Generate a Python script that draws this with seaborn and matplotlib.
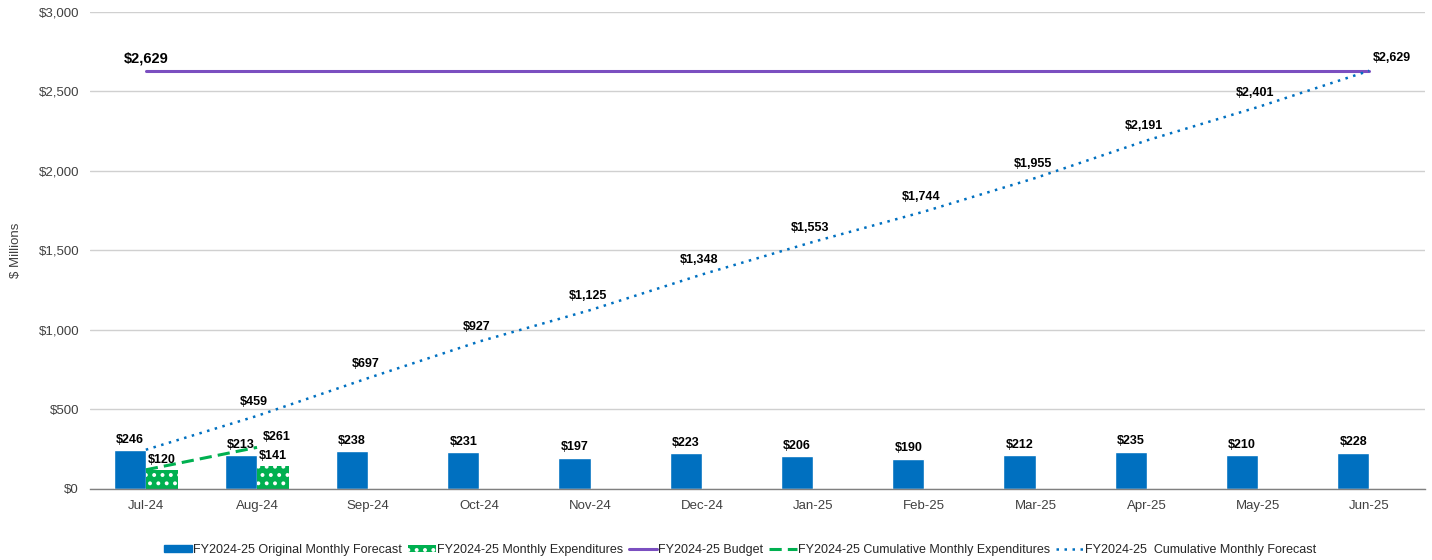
import numpy as np
import pandas as pd
import matplotlib
matplotlib.use("Agg")
import matplotlib.pyplot as plt
from matplotlib.patches import Patch
from matplotlib.lines import Line2D
import seaborn as sns

months = ["Jul-24", "Aug-24", "Sep-24", "Oct-24", "Nov-24", "Dec-24",
          "Jan-25", "Feb-25", "Mar-25", "Apr-25", "May-25", "Jun-25"]
forecast = [246, 213, 238, 231, 197, 223, 206, 190, 212, 235, 210, 228]
expenditures = [120, 141]
budget = 2629
cum_expenditures = [120, 261]
cum_forecast = [246, 459, 697, 927, 1125, 1348, 1553, 1744, 1955, 2191, 2401, 2629]

yticks = [0, 500, 1000, 1500, 2000, 2500, 3000]

names = ["FY2024-25 Original Monthly Forecast",
         "FY2024-25 Monthly Expenditures",
         "FY2024-25 Budget",
         "FY2024-25 Cumulative Monthly Expenditures",
         "FY2024-25  Cumulative Monthly Forecast"]

BLUE = "#0070C0"
GREEN = "#00B050"
PURPLE = "#7B4FC0"

sns.set_theme(style="white")
plt.rcParams["font.family"] = ["Liberation Sans", "DejaVu Sans"]
plt.rcParams["hatch.linewidth"] = 1.6

fig = plt.figure(figsize=(14.32, 5.6), dpi=100)
ax = fig.add_axes([0.063, 0.127, 0.932, 0.852])

bar_df = pd.DataFrame({
    "Month": months + months[:len(expenditures)],
    "Value": forecast + expenditures,
    "Series": [names[0]] * len(months) + [names[1]] * len(expenditures),
})
sns.barplot(data=bar_df, x="Month", y="Value", hue="Series",
            hue_order=[names[0], names[1]], order=months,
            palette=[BLUE, GREEN], width=0.58, gap=0, saturation=1,
            legend=False, ax=ax)

for p in ax.containers[1]:
    p.set_hatch("..")
    p.set_edgecolor("white")
    p.set_linewidth(0)

idx = np.arange(len(months))
sns.lineplot(x=[idx[0], idx[-1]], y=[budget, budget], color=PURPLE, lw=2.2, ax=ax)
sns.lineplot(x=idx[:len(cum_expenditures)], y=cum_expenditures, color=GREEN,
             lw=2.2, linestyle=(0, (4, 2)), ax=ax)
sns.lineplot(x=idx, y=cum_forecast, color=BLUE, lw=1.8,
             linestyle=(0, (1, 2.2)), ax=ax)

lab_kw = dict(fontsize=9, fontweight="bold", color="black", ha="center",
              textcoords="offset points")
for c in ax.containers:
    for p in c:
        ax.annotate(f"${p.get_height():,.0f}",
                    (p.get_x() + p.get_width() / 2, p.get_height()),
                    xytext=(0, 3), va="bottom", **lab_kw)

for i, v in enumerate(cum_forecast[1:-1], start=1):
    ax.annotate(f"${v:,.0f}", (idx[i], v), xytext=(-2, 6), va="bottom", **lab_kw)

ax.annotate(f"${cum_expenditures[-1]:,.0f}", (idx[1], cum_expenditures[-1]),
            xytext=(14, 3), va="bottom", **lab_kw)

ax.annotate(f"${budget:,.0f}", (idx[0], budget), xytext=(0, 4), va="bottom",
            fontsize=10.5, fontweight="bold", ha="center", color="black",
            textcoords="offset points")
ax.annotate(f"${cum_forecast[-1]:,.0f}", (idx[-1], cum_forecast[-1]),
            xytext=(16, 5), va="bottom", **lab_kw)

ax.set_xlim(-0.5, len(months) - 0.5)
ax.set_ylim(0, 3000)
ax.set_yticks(yticks)
ax.set_yticklabels([f"${t:,.0f}" for t in yticks])
ax.set_xticks(idx)
ax.set_xticklabels(months)
ax.tick_params(axis="both", labelsize=9.5, colors="#404040", length=0, pad=8)
ax.set_xlabel("")
ax.set_ylabel("$ Millions", fontsize=9.5, color="#404040", labelpad=12)
ax.yaxis.grid(True, color="#D0D0D0", lw=1)
ax.set_axisbelow(True)
for s in ["top", "right", "left"]:
    ax.spines[s].set_visible(False)
ax.spines["bottom"].set_color("#808080")
ax.spines["bottom"].set_linewidth(1)

handles = [
    Patch(facecolor=BLUE, edgecolor=BLUE),
    Patch(facecolor=GREEN, edgecolor="white", hatch="..", linewidth=0),
    Line2D([], [], color=PURPLE, lw=2.2),
    Line2D([], [], color=GREEN, lw=2.2, linestyle=(0, (4, 2))),
    Line2D([], [], color=BLUE, lw=1.8, linestyle=(0, (1, 2.2))),
]
fig.legend(handles, names, loc="center", bbox_to_anchor=(0.517, 0.018), ncol=5,
           frameon=False, fontsize=9, handlelength=2.2, handletextpad=0.1,
           columnspacing=0.5, handleheight=0.6)

fig.savefig("out.png", dpi=100)
